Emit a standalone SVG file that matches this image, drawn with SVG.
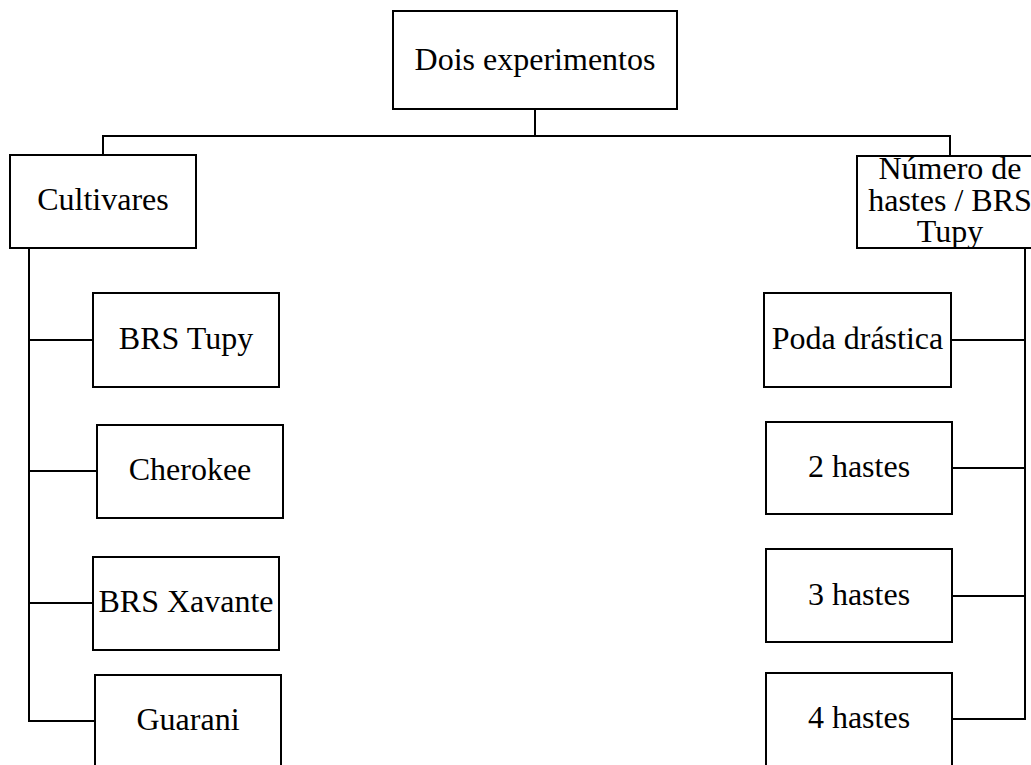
<svg xmlns="http://www.w3.org/2000/svg" width="1031" height="765" viewBox="0 0 1031 765">
<style>
.box{fill:#fff;stroke:#000;stroke-width:2}
.lbl{font-family:"Liberation Serif","Times New Roman",serif;font-size:32px;fill:#000;text-anchor:middle}
.con{fill:none;stroke:#000;stroke-width:2}
</style>
<rect width="1031" height="765" fill="#fff"/>
<g id="connectors" class="con">
<path d="M535,109 V136"/>
<path d="M103,155 V136 H950 V156"/>
<path d="M29,248 V721 H95"/>
<path d="M29,340 H93"/>
<path d="M29,471 H97"/>
<path d="M29,603 H93"/>
<path d="M1025,248 V719 H952"/>
<path d="M1025,340 H951"/>
<path d="M1025,468 H952"/>
<path d="M1025,596 H952"/>
</g>
<g id="n-dois"><rect class="box" x="393" y="11" width="284" height="98"/><text class="lbl" x="535" y="70">Dois experimentos</text></g>
<g id="n-cultivares"><rect class="box" x="10" y="155" width="186" height="93"/><text class="lbl" x="103" y="210">Cultivares</text></g>
<g id="n-numero"><rect class="box" x="857" y="156" width="186" height="92"/><text class="lbl" x="950" y="179">Número de</text><text class="lbl" x="950" y="211">hastes / BRS</text><text class="lbl" x="950" y="242">Tupy</text></g>
<g id="n-brstupy"><rect class="box" x="93" y="293" width="186" height="94"/><text class="lbl" x="186" y="349">BRS Tupy</text></g>
<g id="n-cherokee"><rect class="box" x="97" y="425" width="186" height="93"/><text class="lbl" x="190" y="480">Cherokee</text></g>
<g id="n-xavante"><rect class="box" x="93" y="557" width="186" height="93"/><text class="lbl" x="186" y="612">BRS Xavante</text></g>
<g id="n-guarani"><rect class="box" x="95" y="675" width="186" height="93"/><text class="lbl" x="188" y="730">Guarani</text></g>
<g id="n-poda"><rect class="box" x="764" y="293" width="187" height="94"/><text class="lbl" x="857.5" y="349">Poda drástica</text></g>
<g id="n-2hastes"><rect class="box" x="766" y="422" width="186" height="92"/><text class="lbl" x="859" y="477">2 hastes</text></g>
<g id="n-3hastes"><rect class="box" x="766" y="549" width="186" height="93"/><text class="lbl" x="859" y="605">3 hastes</text></g>
<g id="n-4hastes"><rect class="box" x="766" y="673" width="186" height="93"/><text class="lbl" x="859" y="728">4 hastes</text></g>
</svg>
